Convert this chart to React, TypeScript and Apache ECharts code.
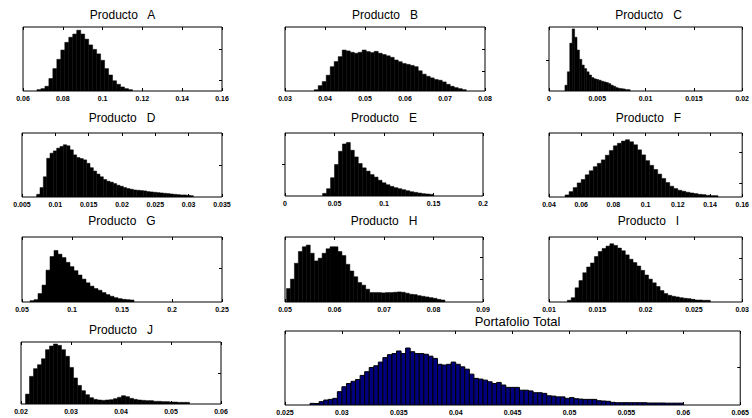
import React, { useEffect, useRef } from 'react';
import * as echarts from 'echarts';

// ---------- DATA ----------
const titles = [
  'Producto   A', 'Producto   B', 'Producto   C',
  'Producto   D', 'Producto   E', 'Producto   F',
  'Producto   G', 'Producto   H', 'Producto   I',
  'Producto   J', 'Portafolio Total',
];

const xMins = [0.06, 0.03, 0, 0.005, 0, 0.04, 0.05, 0.05, 0.01, 0.02, 0.025];
const xMaxs = [0.16, 0.08, 0.02, 0.035, 0.2, 0.16, 0.25, 0.09, 0.03, 0.06, 0.065];
const xSteps = [0.02, 0.01, 0.005, 0.005, 0.05, 0.02, 0.05, 0.01, 0.005, 0.01, 0.005];

const binStarts = [0.067, 0.0373, 0.00165, 0.0072, 0.038, 0.05, 0.058, 0.0503, 0.0119, 0.0209, 0.0272];
const binWidths = [0.002, 0.001, 0.00025, 0.0005, 0.004, 0.0025, 0.004, 0.0008, 0.0004, 0.0008, 0.0004];

// bin heights, as % of the panel's vertical range
const countsA = [2.1, 3.7, 7.4, 19.5, 35, 49.5, 64, 76, 84, 89, 95, 89, 81, 72, 65, 58, 48, 35, 25, 16, 10.5, 6.3, 3.7, 2.1];
const countsB = [2, 8.4, 14.7, 24.7, 38, 46, 53.7, 64, 62.6, 60.5, 59, 60.5, 64, 61.6, 60, 62, 59, 57, 55, 52.6, 48.4, 45.8, 43, 41.6, 40, 38, 31.6, 26.3, 23, 20.5, 18, 16.8, 14.2, 10.5, 7.4, 5.3, 3.7, 2.1];
const countsC = [9, 30, 74.7, 97, 84, 64, 49.5, 40.5, 35, 30, 25, 21, 19, 18, 16.8, 15.3, 14.2, 13.2, 11.6, 9, 7.4, 5.3, 4.2, 3.7, 3.2, 2.1, 2.1];
const countsD = [4.2, 14.7, 31.6, 60.5, 68.4, 72, 76.3, 79, 81.6, 80, 73.7, 65.8, 61.6, 60, 58, 52.6, 45.8, 40.5, 35.8, 31.6, 27.4, 24.7, 23.2, 21, 18.4, 16.8, 14.7, 13.2, 12.1, 11, 10.5, 10, 9.5, 8.4, 7.9, 7.4, 6.8, 6.3, 5.8, 5.3, 4.7, 4.2, 3.7, 3.2, 3.2, 2.6, 2.1];
const countsE = [4.2, 11.6, 29, 50, 71, 82.6, 85, 72.6, 62, 51.6, 44.7, 39.5, 34, 30, 25, 21, 17.9, 15.3, 13.2, 11.6, 10, 8.4, 6.8, 5.8, 4.7, 3.7, 3.2, 2.6];
const countsF = [3.2, 8.4, 14.7, 22, 27.4, 34.7, 41, 47.4, 52.6, 58, 65.3, 72.6, 80, 84, 87.4, 89.5, 86.3, 81.6, 73.7, 65.8, 56.8, 49.5, 43, 35.8, 29, 22.6, 16.8, 13.2, 10.5, 9, 7.4, 6.3, 5.3, 4.2, 3.7, 2.6, 2.1, 2.1];
const countsG = [2.1, 3.6, 13, 26, 49, 70, 79.3, 73.6, 68.4, 61, 54.4, 48.2, 41.5, 35.2, 29.5, 24.4, 20.7, 18.1, 14.5, 11.4, 8.8, 6.7, 5.2, 4.1, 3.6, 3.1];
const countsH = [20.7, 35.2, 59.6, 77.7, 85, 87.6, 75, 63.2, 67.4, 75, 81.9, 85, 85, 77.7, 71.5, 58, 47.7, 38.9, 30, 25.9, 19.7, 14.5, 14.5, 14.5, 14, 14.5, 14.5, 15, 15.5, 15, 13.5, 11.9, 11.4, 9.8, 8.8, 7.8, 6.7, 5.7, 4.1, 3.1];
const countsI = [2.6, 6.7, 21.8, 33, 45, 53.9, 60, 70, 77.7, 82.4, 86, 89.6, 87, 82.9, 78.8, 72.5, 65.8, 60.6, 55.4, 48.7, 41.5, 35.2, 29.5, 23.8, 17.6, 13, 10.4, 8.8, 7.8, 6.7, 5.7, 5.2, 4.1, 3.1, 3.1, 2.6, 2.6];
const countsJ = [16, 44.6, 57, 63.4, 73, 87.6, 93.5, 96.8, 94.6, 87.6, 77, 59, 42, 30, 21.5, 15, 10.2, 7.5, 6.5, 5.9, 6.5, 7, 8.6, 10.8, 13.4, 11.8, 9.1, 7.5, 6.5, 5.9, 5.4, 5.4, 4.3, 4.3, 3.8, 3.8, 3.2, 3.2, 2.7, 2.7, 2.7];
const countsTotal = [2.2, 2, 4.5, 6.7, 7.6, 9, 18, 24.7, 29, 32, 34.5, 40, 45, 50.7, 53, 58, 64, 68, 69.5, 73, 69.5, 77, 72, 69.5, 69.5, 68.6, 66, 63, 55, 54, 55, 58, 55, 51.6, 48.4, 41.7, 36, 35, 33.6, 31.4, 29, 30.5, 27, 23.8, 23.8, 23.8, 20, 20, 19, 16.6, 16.6, 15.7, 12.5, 12, 11, 11, 9, 10, 8.5, 8, 7.6, 7.6, 7.6, 5.8, 5.4, 5, 3.6, 3.1, 3.1, 3.1, 3.1, 3.1, 3.1, 3.1, 2.7, 2.7, 2.7, 2.7, 2.5, 2.5, 2.5, 2.5];

const allCounts = [countsA, countsB, countsC, countsD, countsE, countsF, countsG, countsH, countsI, countsJ, countsTotal];

// right-side y tick positions (% of vertical range)
const yTicks = [[16.8, 65.8], [31.6, 65.8], [48.4], [50], [50], [21, 70], [52], [35, 69], [35, 68], [50], [51.6]];

// ---------- LAYOUT ----------
const GRIDS: number[][] = [
  [23, 27, 199, 64], [285, 27, 200, 64], [549, 27, 199, 64],
  [22, 133, 200, 64], [285, 133, 198, 63], [549, 133, 199, 64],
  [22, 237, 200, 65], [285, 237, 198, 65], [549, 237, 199, 65],
  [21, 342, 200, 62], [285, 331, 465, 74],
];
const TITLE_Y = [15, 15, 15, 118, 118, 118, 221, 221, 221, 330, 321];

const fmt = (v: number) => String(+(+v).toFixed(4));

export default function App() {
  const ref = useRef<HTMLDivElement>(null);
  useEffect(() => {
    document.body.style.margin = '0';
    if (!ref.current) return;
    const chart = echarts.init(ref.current, null, { renderer: 'svg' });

    const grid: any[] = [];
    const xAxis: any[] = [];
    const yAxis: any[] = [];
    const series: any[] = [];
    const graphic: any[] = [];

    GRIDS.forEach((g, i) => {
      const isTotal = i === 10;
      grid.push({
        left: g[0], top: g[1], width: g[2], height: g[3],
        show: true, borderColor: '#000', borderWidth: 1, backgroundColor: '#fff',
      });
      const base = {
        gridIndex: i, type: 'value', min: xMins[i], max: xMaxs[i], interval: xSteps[i],
        axisLine: { show: false }, splitLine: { show: false },
        axisTick: { inside: true, length: 3, lineStyle: { color: '#000', width: 1 } },
      };
      xAxis.push({
        ...base, position: 'bottom',
        axisLabel: {
          show: true, color: '#000', fontSize: 7, fontWeight: 'bold',
          fontFamily: 'Liberation Sans', margin: 4, formatter: fmt,
          showMinLabel: true, showMaxLabel: true,
        },
      });
      xAxis.push({ ...base, position: 'top', axisLabel: { show: false } });
      yAxis.push({
        gridIndex: i, type: 'value', min: 0, max: 100, position: 'right',
        axisLine: { show: false }, splitLine: { show: false }, axisLabel: { show: false },
        axisTick: { inside: true, length: 3, customValues: yTicks[i], lineStyle: { color: '#000' } },
      });
      const counts = allCounts[i];
      const data = counts.map((c, k) => {
        const x0 = binStarts[i] + k * binWidths[i];
        return [x0, x0 + binWidths[i], c];
      });
      series.push({
        type: 'custom',
        xAxisIndex: 2 * i,
        yAxisIndex: i,
        clip: true,
        encode: { x: [0, 1], y: 2 },
        data,
        renderItem: (params: any, api: any) => {
          const p0 = api.coord([api.value(0), api.value(2)]);
          const p1 = api.coord([api.value(1), 0]);
          return {
            type: 'rect',
            shape: { x: p0[0], y: p0[1], width: p1[0] - p0[0], height: p1[1] - p0[1] },
            style: isTotal
              ? { fill: '#00007f', stroke: '#000', lineWidth: 1 }
              : { fill: '#000', stroke: '#000', lineWidth: 0.5 },
          };
        },
      });
      graphic.push({
        type: 'text',
        x: g[0] + g[2] / 2,
        y: TITLE_Y[i],
        style: {
          text: titles[i],
          fill: '#000',
          font: `${isTotal ? 13 : 12}px "Liberation Sans"`,
          textAlign: 'center',
          textVerticalAlign: 'middle',
        },
      });
    });

    chart.setOption({
      animation: false,
      backgroundColor: '#fff',
      grid, xAxis, yAxis, series, graphic,
    });
    return () => chart.dispose();
  }, []);
  return <div ref={ref} style={{ width: 752, height: 418 }} />;
}
